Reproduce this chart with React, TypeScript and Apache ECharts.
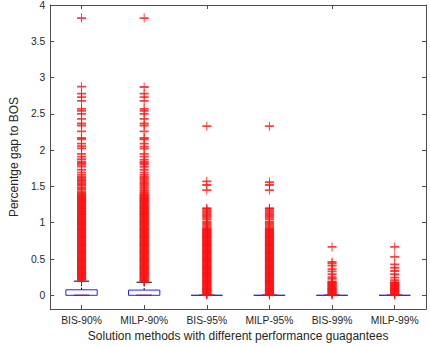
import React, { useEffect, useRef } from "react";
import * as echarts from "echarts";

const categories = ["BIS-90%", "MILP-90%", "BIS-95%", "MILP-95%", "BIS-99%", "MILP-99%"];
const yTicks = [0, 0.5, 1, 1.5, 2, 2.5, 3, 3.5, 4];

const whiskerLow = [0, 0, 0, 0, 0, 0];
const q1 = [0, 0, 0, 0, 0, 0];
const median = [0, 0, 0, 0, 0, 0];
const q3 = [0.076, 0.072, 0, 0, 0, 0];
const whiskerHigh = [0.195, 0.18, 0, 0, 0, 0];

const bis90Outliers = [
  3.82, 2.875, 2.78, 2.73, 2.68, 2.57, 2.54, 2.5, 2.43, 2.37, 2.34, 2.26, 2.17, 2.15, 2.09, 2.055, 2.025,
  1.95, 1.91, 1.875, 1.84, 1.82, 1.8, 1.775, 1.73, 1.69, 1.66, 1.63, 1.61, 1.59, 1.575, 1.55, 1.53, 1.515,
  1.49, 1.47, 1.455, 1.43, 1.41, 1.395, 1.38,
  1.37, 1.36, 1.35, 1.34, 1.33, 1.32, 1.31, 1.3, 1.29, 1.28, 1.27, 1.26, 1.25, 1.24, 1.23, 1.22, 1.21, 1.2,
  1.19, 1.18, 1.17, 1.16, 1.15, 1.14, 1.13, 1.12, 1.11, 1.1, 1.09, 1.08, 1.07, 1.06, 1.05, 1.04, 1.03, 1.02,
  1.01, 1.0, 0.99, 0.98, 0.97, 0.96, 0.95, 0.94, 0.93, 0.92, 0.91, 0.9, 0.89, 0.88, 0.87, 0.86, 0.85, 0.84,
  0.83, 0.82, 0.81, 0.8, 0.79, 0.78, 0.77, 0.76, 0.75, 0.74, 0.73, 0.72, 0.71, 0.7, 0.69, 0.68, 0.67, 0.66,
  0.65, 0.64, 0.63, 0.62, 0.61, 0.6, 0.59, 0.58, 0.57, 0.56, 0.55, 0.54, 0.53, 0.52, 0.51, 0.5, 0.49, 0.48,
  0.47, 0.46, 0.45, 0.44, 0.43, 0.42, 0.41, 0.4, 0.39, 0.38, 0.37, 0.36, 0.35, 0.34, 0.33, 0.32, 0.31, 0.3,
  0.29, 0.28, 0.27, 0.26, 0.25, 0.24, 0.23, 0.22, 0.21,
];
const milp90Outliers = [
  3.82, 2.87, 2.78, 2.73, 2.68, 2.57, 2.54, 2.5, 2.43, 2.37, 2.34, 2.26, 2.17, 2.15, 2.09, 2.05, 2.02,
  1.95, 1.91, 1.87, 1.84, 1.82, 1.8, 1.77, 1.73, 1.69, 1.66, 1.63, 1.61, 1.59, 1.57, 1.55, 1.53, 1.51,
  1.49, 1.47, 1.45, 1.43, 1.41, 1.39, 1.38,
  1.37, 1.36, 1.35, 1.34, 1.33, 1.32, 1.31, 1.3, 1.29, 1.28, 1.27, 1.26, 1.25, 1.24, 1.23, 1.22, 1.21, 1.2,
  1.19, 1.18, 1.17, 1.16, 1.15, 1.14, 1.13, 1.12, 1.11, 1.1, 1.09, 1.08, 1.07, 1.06, 1.05, 1.04, 1.03, 1.02,
  1.01, 1.0, 0.99, 0.98, 0.97, 0.96, 0.95, 0.94, 0.93, 0.92, 0.91, 0.9, 0.89, 0.88, 0.87, 0.86, 0.85, 0.84,
  0.83, 0.82, 0.81, 0.8, 0.79, 0.78, 0.77, 0.76, 0.75, 0.74, 0.73, 0.72, 0.71, 0.7, 0.69, 0.68, 0.67, 0.66,
  0.65, 0.64, 0.63, 0.62, 0.61, 0.6, 0.59, 0.58, 0.57, 0.56, 0.55, 0.54, 0.53, 0.52, 0.51, 0.5, 0.49, 0.48,
  0.47, 0.46, 0.45, 0.44, 0.43, 0.42, 0.41, 0.4, 0.39, 0.38, 0.37, 0.36, 0.35, 0.34, 0.33, 0.32, 0.31, 0.3,
  0.29, 0.28, 0.27, 0.26, 0.25, 0.24, 0.23, 0.22, 0.21, 0.2, 0.19,
];
const bis95Outliers = [
  2.33, 1.57, 1.52, 1.45, 1.2, 1.19, 1.17, 1.15, 1.13, 1.11, 1.09, 1.07, 1.05, 1.02, 1.0, 0.98, 0.96, 0.94,
  0.92, 0.91, 0.9, 0.89, 0.88, 0.87, 0.86, 0.85, 0.84, 0.83, 0.82, 0.81, 0.8, 0.79, 0.78, 0.77, 0.76, 0.75,
  0.74, 0.73, 0.72, 0.71, 0.7, 0.69, 0.68, 0.67, 0.66, 0.65, 0.64, 0.63, 0.62, 0.61, 0.6, 0.59, 0.58, 0.57,
  0.56, 0.55, 0.54, 0.53, 0.52, 0.51, 0.5, 0.49, 0.48, 0.47, 0.46, 0.45, 0.44, 0.43, 0.42, 0.41, 0.4, 0.39,
  0.38, 0.37, 0.36, 0.35, 0.34, 0.33, 0.32, 0.31, 0.3, 0.29, 0.28, 0.27, 0.26, 0.25, 0.24, 0.23, 0.22, 0.21,
  0.2, 0.19, 0.18, 0.17, 0.16, 0.15, 0.14, 0.13, 0.12, 0.11, 0.1, 0.09, 0.08, 0.07, 0.06, 0.05, 0.04, 0.03,
  0.02, 0.01, 0.003,
];
const milp95Outliers = [
  2.33, 1.56, 1.52, 1.45, 1.2, 1.19, 1.17, 1.15, 1.13, 1.11, 1.09, 1.07, 1.05, 1.02, 1.0, 0.98, 0.96, 0.94,
  0.92, 0.91, 0.9, 0.89, 0.88, 0.87, 0.86, 0.85, 0.84, 0.83, 0.82, 0.81, 0.8, 0.79, 0.78, 0.77, 0.76, 0.75,
  0.74, 0.73, 0.72, 0.71, 0.7, 0.69, 0.68, 0.67, 0.66, 0.65, 0.64, 0.63, 0.62, 0.61, 0.6, 0.59, 0.58, 0.57,
  0.56, 0.55, 0.54, 0.53, 0.52, 0.51, 0.5, 0.49, 0.48, 0.47, 0.46, 0.45, 0.44, 0.43, 0.42, 0.41, 0.4, 0.39,
  0.38, 0.37, 0.36, 0.35, 0.34, 0.33, 0.32, 0.31, 0.3, 0.29, 0.28, 0.27, 0.26, 0.25, 0.24, 0.23, 0.22, 0.21,
  0.2, 0.19, 0.18, 0.17, 0.16, 0.15, 0.14, 0.13, 0.12, 0.11, 0.1, 0.09, 0.08, 0.07, 0.06, 0.05, 0.04, 0.03,
  0.02, 0.01, 0.003,
];
const bis99Outliers = [
  0.666, 0.46, 0.44, 0.41, 0.36, 0.33, 0.29, 0.25, 0.226, 0.19, 0.18, 0.17, 0.16, 0.15, 0.14, 0.13, 0.12,
  0.11, 0.1, 0.09, 0.08, 0.07, 0.06, 0.05, 0.04, 0.03, 0.02, 0.01, 0.003,
];
const milp99Outliers = [
  0.666, 0.53, 0.425, 0.38, 0.335, 0.29, 0.245, 0.21, 0.18, 0.17, 0.16, 0.15, 0.14, 0.13, 0.12, 0.11, 0.1,
  0.09, 0.08, 0.07, 0.06, 0.05, 0.04, 0.03, 0.02, 0.01, 0.003,
];

const outlierGroups = [bis90Outliers, milp90Outliers, bis95Outliers, milp95Outliers, bis99Outliers, milp99Outliers];

const PLUS = "path://M0,3.6H9V5.4H0Z M4,0H5V9H4Z";
const FONT = "'Liberation Sans', Arial, Helvetica, sans-serif";
const TEXT = "#262626";
const AXIS = "#4d4d4d";

export default function App() {
  const ref = useRef<HTMLDivElement>(null);
  useEffect(() => {
    if (!ref.current) return;
    const chart = echarts.init(ref.current, undefined, { renderer: "svg" });
    const boxData = categories.map((_, i) => [i, whiskerLow[i], q1[i], median[i], q3[i], whiskerHigh[i]]);
    const scatterData: number[][] = [];
    outlierGroups.forEach((arr, i) => arr.forEach((v) => scatterData.push([i, v])));

    const tickCommon = { show: true, inside: true, length: 4, lineStyle: { color: AXIS, width: 1 } };
    const lineCommon = { show: true, onZero: false, lineStyle: { color: AXIS, width: 1 } };

    chart.setOption({
      animation: false,
      backgroundColor: "#ffffff",
      textStyle: { fontFamily: FONT },
      grid: { left: 33, right: 4, top: 3, bottom: 36, containLabel: false },
      xAxis: [
        {
          type: "category",
          data: categories,
          position: "bottom",
          boundaryGap: true,
          axisLine: lineCommon,
          axisTick: { ...tickCommon, alignWithLabel: true },
          axisLabel: { color: TEXT, fontSize: 10.3, fontFamily: FONT, margin: 6 },
          name: "Solution methods with different performance guagantees",
          nameLocation: "middle",
          nameGap: 19,
          nameTextStyle: { color: TEXT, fontSize: 12, fontFamily: FONT },
        },
        {
          type: "category",
          data: categories,
          position: "top",
          boundaryGap: true,
          axisLine: lineCommon,
          axisTick: { ...tickCommon, alignWithLabel: true },
          axisLabel: { show: false },
        },
      ],
      yAxis: [
        {
          type: "value",
          min: -0.19,
          max: 4,
          position: "left",
          axisLine: lineCommon,
          axisTick: { ...tickCommon, customValues: yTicks },
          axisLabel: { color: TEXT, fontSize: 10.3, fontFamily: FONT, margin: 5, customValues: yTicks },
          splitLine: { show: false },
          name: "Percentge gap to BOS",
          nameLocation: "middle",
          nameGap: 26,
          nameRotate: 90,
          nameTextStyle: { color: TEXT, fontSize: 12, fontFamily: FONT },
        },
        {
          type: "value",
          min: -0.19,
          max: 4,
          position: "right",
          axisLine: lineCommon,
          axisTick: { ...tickCommon, customValues: yTicks },
          axisLabel: { show: false, customValues: yTicks },
          splitLine: { show: false },
        },
      ],
      series: [
        {
          type: "custom",
          xAxisIndex: 0,
          yAxisIndex: 0,
          z: 2,
          data: boxData,
          renderItem: (params: any, api: any) => {
            const idx = api.value(0);
            const lo = api.coord([idx, api.value(1)]);
            const qa = api.coord([idx, api.value(2)]);
            const md = api.coord([idx, api.value(3)]);
            const qb = api.coord([idx, api.value(4)]);
            const hi = api.coord([idx, api.value(5)]);
            const band = api.size([1, 0])[0];
            const cx = lo[0];
            const hb = band * 0.25;
            const hc = band * 0.1225;
            return {
              type: "group",
              children: [
                {
                  type: "line",
                  shape: { x1: cx, y1: qb[1], x2: cx, y2: hi[1] },
                  style: { stroke: "#000000", lineWidth: 1, lineDash: [2, 1.5] },
                },
                {
                  type: "line",
                  shape: { x1: cx, y1: qa[1], x2: cx, y2: lo[1] },
                  style: { stroke: "#000000", lineWidth: 1, lineDash: [2, 1.5] },
                },
                {
                  type: "line",
                  shape: { x1: cx - hc, y1: hi[1], x2: cx + hc, y2: hi[1] },
                  style: { stroke: "#000000", lineWidth: 1 },
                },
                {
                  type: "line",
                  shape: { x1: cx - hc, y1: lo[1], x2: cx + hc, y2: lo[1] },
                  style: { stroke: "#000000", lineWidth: 1 },
                },
                {
                  type: "polygon",
                  shape: {
                    points: [
                      [cx - hb, qa[1]],
                      [cx + hb, qa[1]],
                      [cx + hb, qb[1]],
                      [cx - hb, qb[1]],
                    ],
                  },
                  style: { fill: "none", stroke: "#2020ff", lineWidth: 1 },
                },
                {
                  type: "line",
                  shape: { x1: cx - hc, y1: md[1], x2: cx + hc, y2: md[1] },
                  style: { stroke: "#d01030", lineWidth: 1 },
                },
              ],
            };
          },
        },
        {
          type: "scatter",
          xAxisIndex: 0,
          yAxisIndex: 0,
          z: 3,
          symbol: PLUS,
          symbolSize: 9,
          itemStyle: { color: "#ff1010" },
          data: scatterData,
        },
      ],
    });
    return () => chart.dispose();
  }, []);
  return (
    <div
      ref={ref}
      style={{ position: "fixed", left: 0, top: 0, width: 430, height: 347, background: "#fff" }}
    />
  );
}
